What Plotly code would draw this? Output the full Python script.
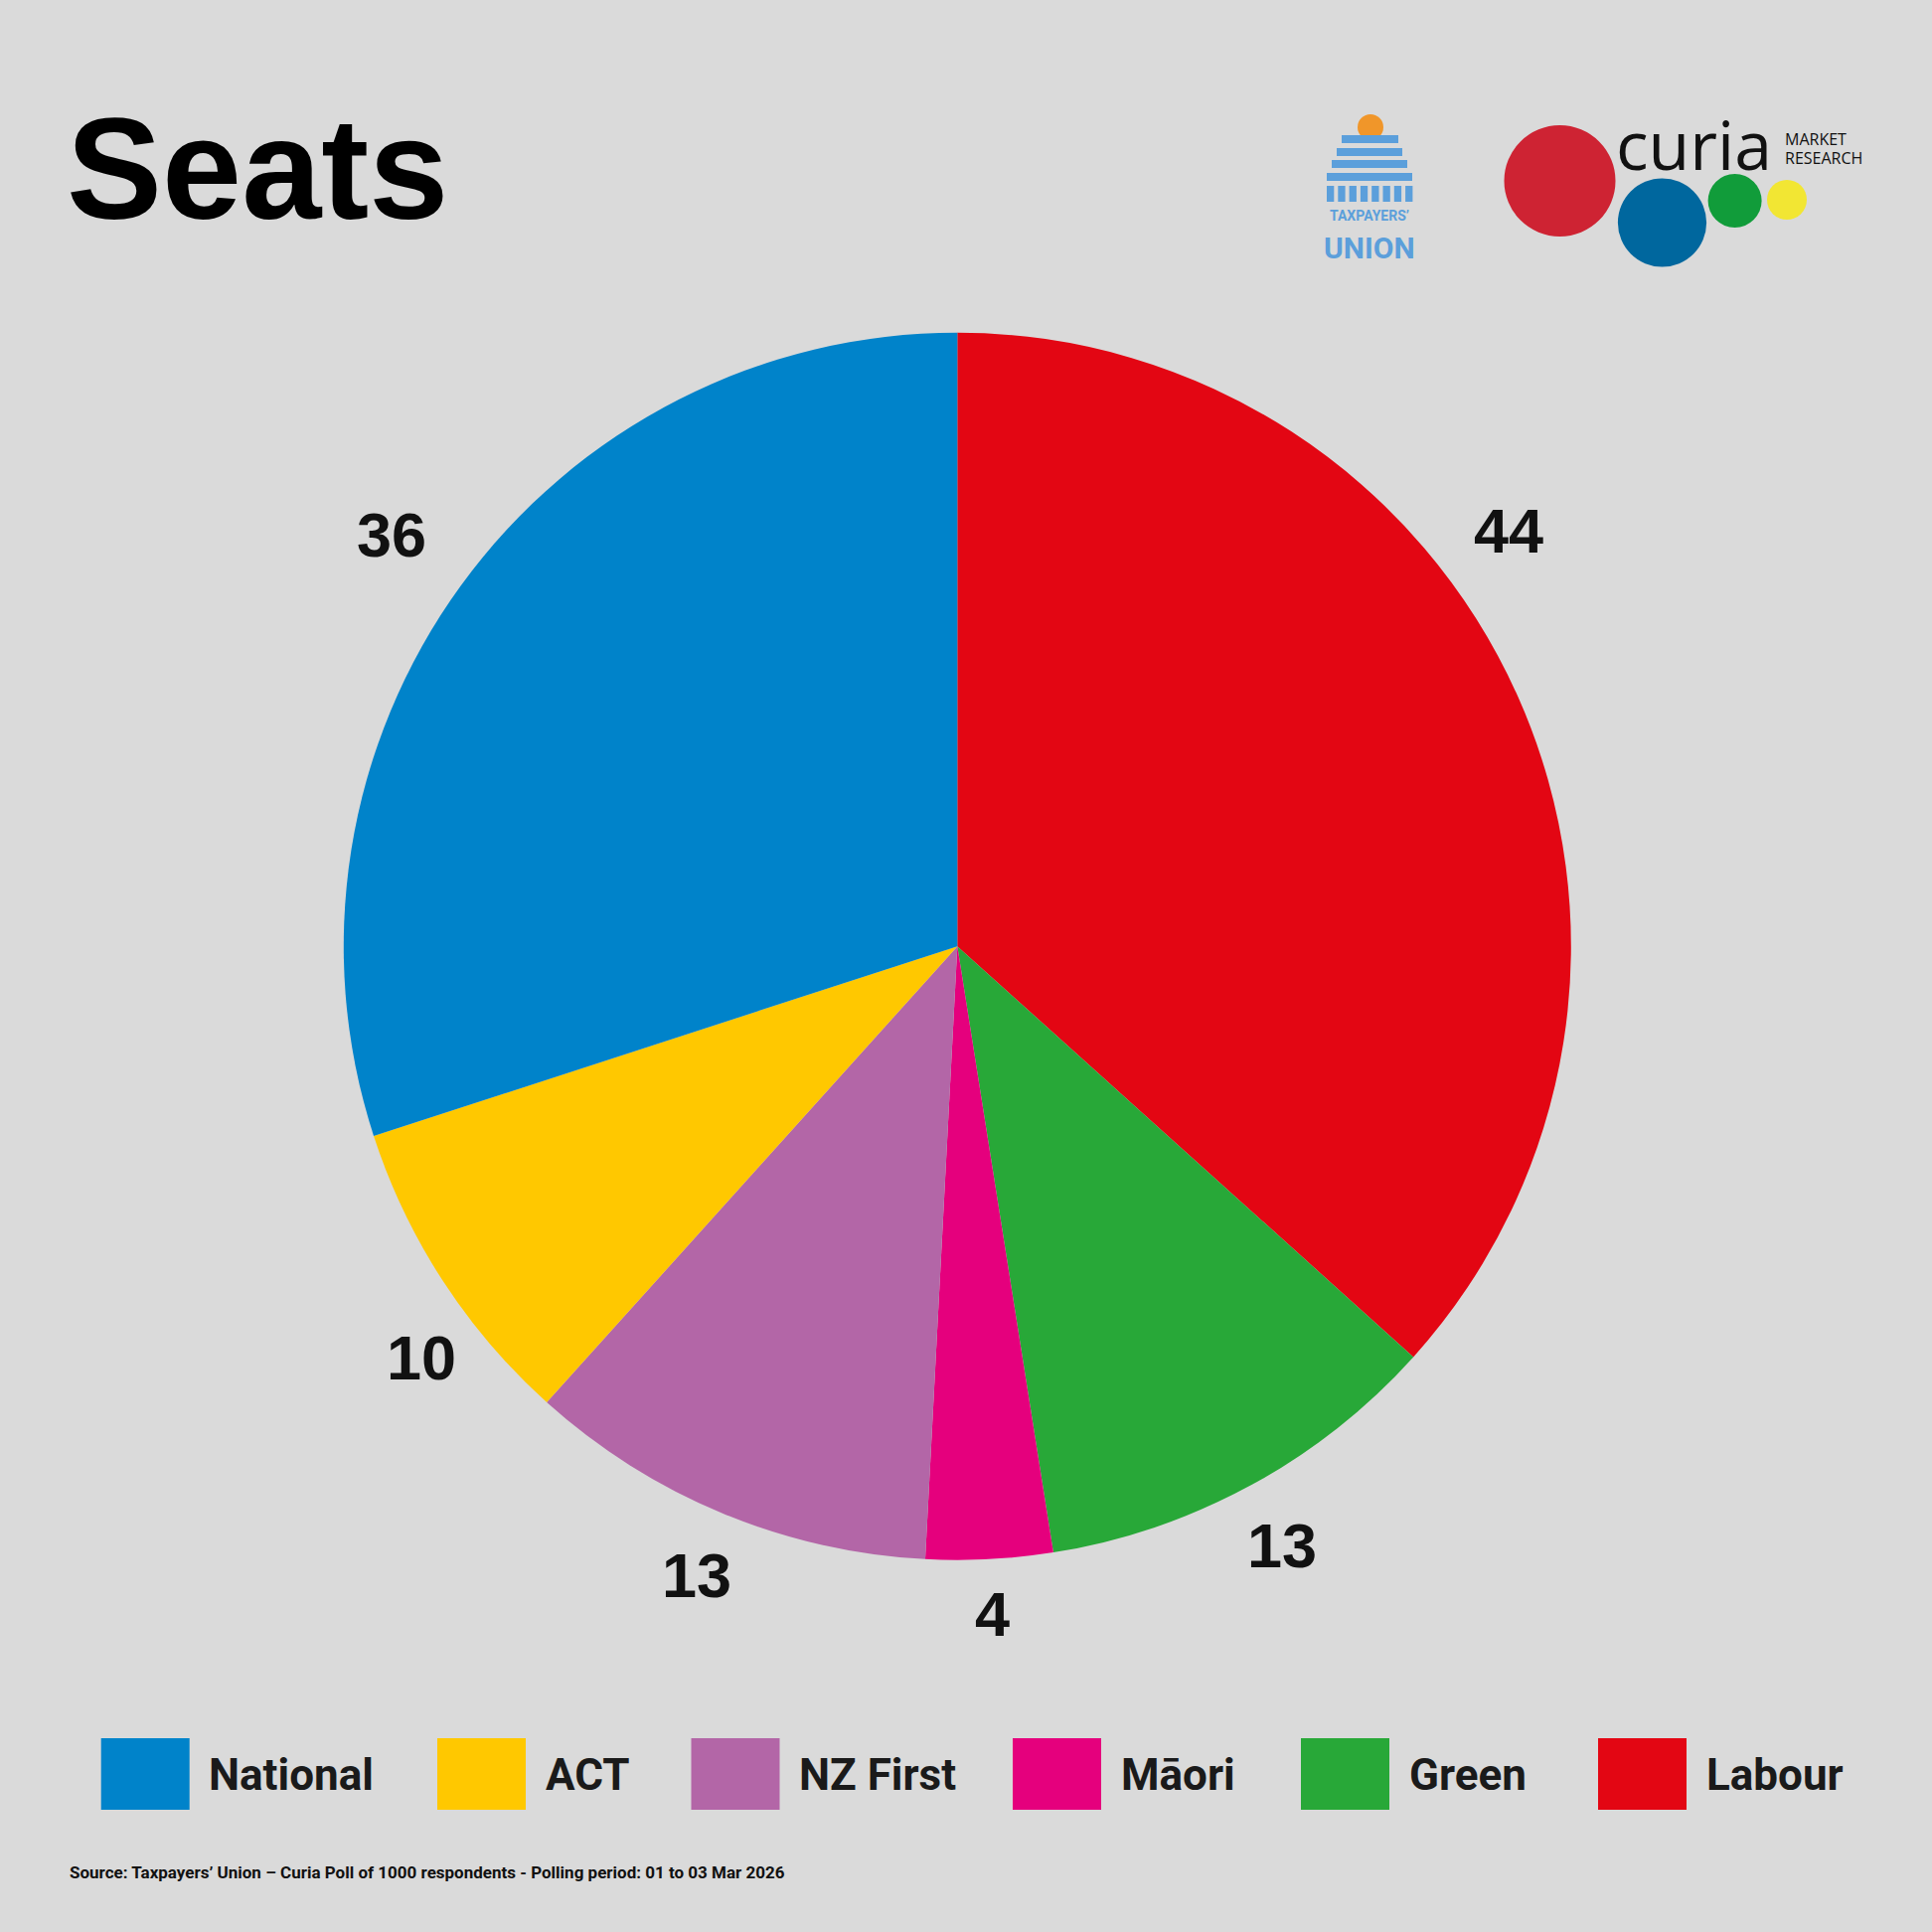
import math
import plotly.graph_objects as go

# ---------------- data ----------------
parties = ["National", "ACT", "NZ First", "Māori", "Green", "Labour"]
seats = [36, 10, 13, 4, 13, 44]
colors = ["#0083CA", "#FFC800", "#B366A7", "#E5007D", "#28A838", "#E30613"]

title_text = "Seats"
source_text = ("Source: Taxpayers’ Union – Curia Poll of 1000 respondents - "
               "Polling period: 01 to 03 Mar 2026")

# ---------------- layout helpers ----------------
W = H = 1944
BG = "#DADADA"


def X(px):
    return px / W


def Y(py):
    return 1 - py / H


PIE_CX, PIE_CY, PIE_R = 963.3, 952.2, 617.5

# pie drawn clockwise from 12 o'clock: Labour first ... National last
pie_labels = parties[::-1]
pie_values = seats[::-1]
pie_colors = colors[::-1]

fig = go.Figure()
fig.add_trace(go.Pie(
    labels=pie_labels,
    values=pie_values,
    marker=dict(colors=pie_colors, line=dict(width=0)),
    sort=False,
    direction="clockwise",
    rotation=0,
    textinfo="none",
    hoverinfo="label+value",
    showlegend=False,
    domain=dict(x=[X(PIE_CX - PIE_R), X(PIE_CX + PIE_R)],
                y=[Y(PIE_CY + PIE_R), Y(PIE_CY - PIE_R)]),
))

annotations = []
shapes = []

# value labels outside each slice, around the slice mid-angle
# (label placement style: small angular nudges as in the original layout)
LABEL_ANGLE_NUDGE = {"Labour": -13.0, "ACT": -4.5}
LABEL_R_FACTOR = {"Labour": 1.125, "National": 1.14, "Māori": 1.09, "ACT": 1.10}
total = sum(pie_values)
cum = 0
for lab, v in zip(pie_labels, pie_values):
    mid_deg = (cum + v / 2) / total * 360 + LABEL_ANGLE_NUDGE.get(lab, 0.0)
    cum += v
    mid = math.radians(mid_deg)
    rr = PIE_R * LABEL_R_FACTOR.get(lab, 1.11)
    lx = PIE_CX + rr * math.sin(mid)
    ly = PIE_CY - rr * math.cos(mid)
    annotations.append(dict(
        x=X(lx), y=Y(ly), xref="paper", yref="paper", text=str(v),
        showarrow=False, xanchor="center", yanchor="middle",
        font=dict(family="Liberation Sans", size=63, color="#111111", weight="bold"),
    ))

# title
annotations.append(dict(
    x=X(65), y=Y(170), xref="paper", yref="paper", text=f"<b>{title_text}</b>",
    showarrow=False, xanchor="left", yanchor="middle",
    font=dict(family="Liberation Sans", size=144, color="#000000"),
))

# custom legend
legend_box_x = [101.7, 440, 695.5, 1019, 1309, 1608]
legend_text_x = [208, 547, 802, 1126, 1416, 1715]
for i, p in enumerate(parties):
    shapes.append(dict(
        type="rect", xref="paper", yref="paper",
        x0=X(legend_box_x[i]), x1=X(legend_box_x[i] + 89),
        y0=Y(1821), y1=Y(1749),
        fillcolor=colors[i], line=dict(width=0),
    ))
    annotations.append(dict(
        x=X(legend_text_x[i]), y=Y(1786), xref="paper", yref="paper",
        text=f"<b>{p}</b>", showarrow=False, xanchor="left", yanchor="middle",
        font=dict(family="Roboto", size=44, color="#1A1A1A"),
    ))

# source
annotations.append(dict(
    x=X(68), y=Y(1884), xref="paper", yref="paper", text=f"<b>{source_text}</b>",
    showarrow=False, xanchor="left", yanchor="middle",
    font=dict(family="Roboto", size=17, color="#111111"),
))

# ---- Taxpayers' Union logo ----
TU_BLUE = "#5B9FDB"
shapes.append(dict(type="circle", xref="paper", yref="paper",
                   x0=X(1366), x1=X(1392), y0=Y(141), y1=Y(115),
                   fillcolor="#F0962A", line=dict(width=0)))
for (x0, x1, y0, y1) in [(1350, 1407, 136, 144), (1345, 1411, 149, 157),
                         (1340, 1416, 161, 169), (1335, 1421, 174, 182)]:
    shapes.append(dict(type="rect", xref="paper", yref="paper",
                       x0=X(x0), x1=X(x1), y0=Y(y1), y1=Y(y0),
                       fillcolor=TU_BLUE, line=dict(width=0)))
for k in range(8):
    cx0 = 1335 + k * 11.3
    shapes.append(dict(type="rect", xref="paper", yref="paper",
                       x0=X(cx0), x1=X(cx0 + 7.3), y0=Y(203), y1=Y(187),
                       fillcolor=TU_BLUE, line=dict(width=0)))
annotations.append(dict(
    x=X(1378), y=Y(217), xref="paper", yref="paper", text="<b>TAXPAYERS’</b>",
    showarrow=False, xanchor="center", yanchor="middle",
    font=dict(family="Roboto", size=14, color=TU_BLUE),
))
annotations.append(dict(
    x=X(1378), y=Y(249), xref="paper", yref="paper", text="<b>UNION</b>",
    showarrow=False, xanchor="center", yanchor="middle",
    font=dict(family="Roboto", size=30, color=TU_BLUE),
))

# ---- Curia logo ----
for (cx, cy, r, c) in [(1569.5, 182, 56, "#CE2333"), (1672.5, 224, 44.6, "#00679E"),
                       (1745.6, 202, 27, "#119C3A"), (1798, 201, 20, "#F2E633")]:
    shapes.append(dict(type="circle", xref="paper", yref="paper",
                       x0=X(cx - r), x1=X(cx + r), y0=Y(cy + r), y1=Y(cy - r),
                       fillcolor=c, line=dict(width=0)))
annotations.append(dict(
    x=X(1624), y=Y(144), xref="paper", yref="paper", text="curia",
    showarrow=False, xanchor="left", yanchor="middle",
    font=dict(family="Open Sans", size=68, color="#111111", weight=500),
))
annotations.append(dict(
    x=X(1794), y=Y(140), xref="paper", yref="paper", text="MARKET",
    showarrow=False, xanchor="left", yanchor="middle",
    font=dict(family="Open Sans", size=16, color="#111111"),
))
annotations.append(dict(
    x=X(1794), y=Y(159), xref="paper", yref="paper", text="RESEARCH",
    showarrow=False, xanchor="left", yanchor="middle",
    font=dict(family="Open Sans", size=16, color="#111111"),
))

fig.update_layout(
    width=W, height=H,
    margin=dict(l=0, r=0, t=0, b=0),
    paper_bgcolor=BG, plot_bgcolor=BG,
    showlegend=False,
    annotations=annotations,
    shapes=shapes,
)

fig.write_html("out.html", config={"displayModeBar": False},
               post_script="document.body.style.margin='0px';")
